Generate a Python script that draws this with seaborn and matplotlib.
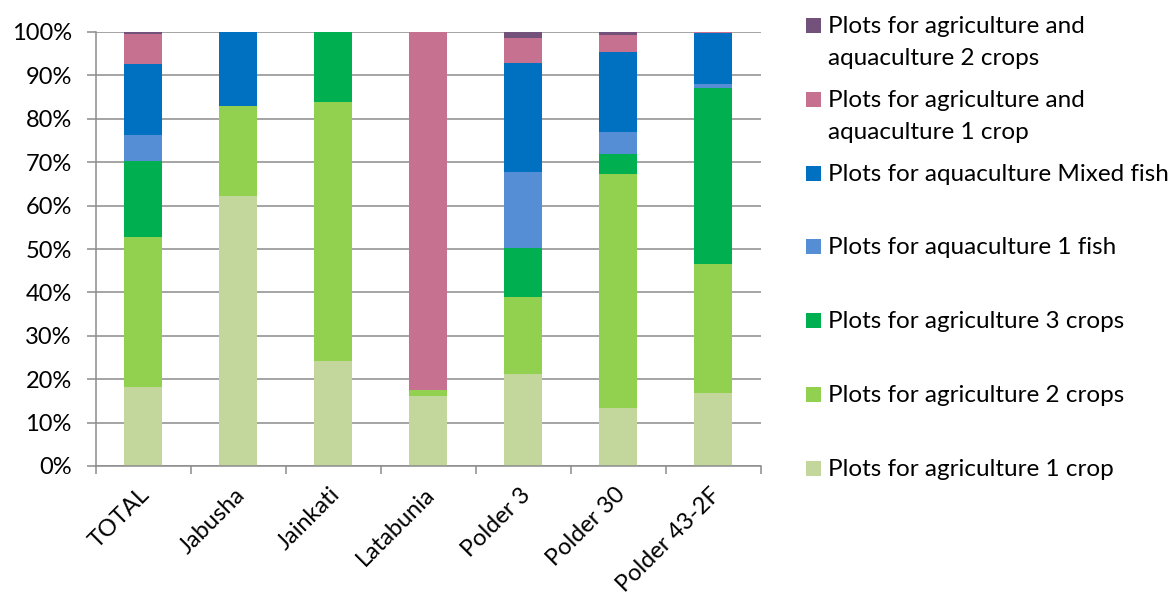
import matplotlib
matplotlib.use("Agg")
import matplotlib.pyplot as plt
from matplotlib.patches import Rectangle
from matplotlib.ticker import PercentFormatter, FixedLocator
from matplotlib.transforms import ScaledTranslation
import numpy as np
import seaborn as sns

sites = ["TOTAL", "Jabusha", "Jainkati", "Latabunia", "Polder 3", "Polder 30", "Polder 43-2F"]

# Share of plots (%) per land-use type, bottom of the stack first
agri_1_crop = [18.3, 62.3, 24.3, 16.2, 21.2, 13.4, 16.8]
agri_2_crops = [34.4, 20.7, 59.5, 1.2, 17.7, 53.9, 29.7]
agri_3_crops = [17.5, 0.0, 16.2, 0.0, 11.4, 4.6, 40.5]
aqua_1_fish = [6.1, 0.0, 0.0, 0.0, 17.5, 5.1, 1.1]
aqua_mixed_fish = [16.3, 17.0, 0.0, 0.0, 25.1, 18.3, 11.7]
agri_aqua_1_crop = [7.0, 0.0, 0.0, 82.6, 5.8, 4.1, 0.2]
agri_aqua_2_crops = [0.4, 0.0, 0.0, 0.0, 1.3, 0.6, 0.0]

series_names = [
    "Plots for agriculture 1 crop",
    "Plots for agriculture 2 crops",
    "Plots for agriculture 3 crops",
    "Plots for aquaculture 1 fish",
    "Plots for aquaculture Mixed fish",
    "Plots for agriculture and\naquaculture 1 crop",
    "Plots for agriculture and\naquaculture 2 crops",
]
series_values = [agri_1_crop, agri_2_crops, agri_3_crops, aqua_1_fish,
                 aqua_mixed_fish, agri_aqua_1_crop, agri_aqua_2_crops]
series_colors = ["#C3D69B", "#92D050", "#00B050", "#558ED5",
                 "#0070C0", "#C5718F", "#72527A"]

y_ticks = [0, 10, 20, 30, 40, 50, 60, 70, 80, 90, 100]

sns.set_theme(style="white")
plt.rcParams["font.family"] = ["Lato", "DejaVu Sans"]

fig = plt.figure(figsize=(11.74, 5.95), dpi=100)
W, H = 1174, 595
ax = fig.add_axes([95.7 / W, 1 - 466 / H, (761 - 95.7) / W, (466 - 32) / H])

grid_color = "#8C8C8C"
ax.set_axisbelow(True)
ax.yaxis.grid(True, color=grid_color, linewidth=1.1)

bottom = np.zeros(len(sites))
for name, vals, col in zip(series_names, series_values, series_colors):
    vals = np.asarray(vals, dtype=float)
    sns.barplot(x=sites, y=vals, bottom=bottom, color=col, width=0.4,
                linewidth=0, saturation=1, ax=ax, order=sites)
    bottom = bottom + vals

ax.set_xlim(-0.5, len(sites) - 0.5)
ax.set_ylim(0, 100)
ax.set_yticks(y_ticks)
ax.yaxis.set_major_formatter(PercentFormatter(decimals=0))
ax.tick_params(axis="y", which="major", length=6.2, width=1.1, color=grid_color,
               labelsize=17, labelcolor="black", pad=11, left=True)

ax.set_xticks(range(len(sites)))
ax.set_xticklabels(sites, rotation=45, ha="right", va="top",
                   rotation_mode="anchor", fontsize=17, color="black")
ax.tick_params(axis="x", which="major", length=0, pad=13)
shift = ScaledTranslation(-4 / 100, 0, fig.dpi_scale_trans)
for lab in ax.get_xticklabels():
    lab.set_transform(lab.get_transform() + shift)
ax.xaxis.set_minor_locator(FixedLocator(np.arange(-0.5, len(sites), 1.0)))
ax.tick_params(axis="x", which="minor", length=6, width=1.1,
               color=grid_color, bottom=True)

for side in ["top", "right"]:
    ax.spines[side].set_visible(False)
for side in ["left", "bottom"]:
    ax.spines[side].set_color(grid_color)
    ax.spines[side].set_linewidth(1.1)
ax.set_xlabel("")
ax.set_ylabel("")

# Legend: top entry is the last stacked series; the swatch sits on the
# first line of its label
legend_rows = list(zip(series_names, series_colors))[::-1]
first_y = 25.5
step = 73.8
line_px = 32
for i, (name, col) in enumerate(legend_rows):
    yc = first_y + step * i
    fig.patches.append(Rectangle((806 / W, 1 - (yc + 7.5) / H), 15 / W, 15 / H,
                                 transform=fig.transFigure, facecolor=col,
                                 edgecolor="none", figure=fig))
    extra = name.count("\n") * line_px
    fig.text(828 / W, 1 - (yc + 7.5 + extra) / H, name, fontsize=17.5,
             va="baseline", ha="left", color="black", linespacing=1.65)

fig.savefig("out.png", dpi=100)
